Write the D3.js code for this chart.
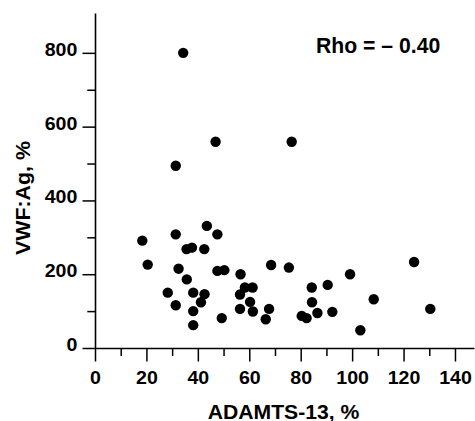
<!DOCTYPE html>
<html>
<head>
<meta charset="utf-8">
<script src="https://cdn.jsdelivr.net/npm/d3@7"></script>
<style>
  html, body { margin: 0; padding: 0; background: #fff; }
  svg { display: block; }
  text { font-family: "Liberation Sans", Arial, Helvetica, sans-serif; font-weight: bold; fill: #000; }
</style>
</head>
<body>
<svg id="chart" width="475" height="421"></svg>
<script>
// ADAMTS-13 activity (%)
const adamts13 = [18.4, 20.5, 31.4, 43.5, 47.6, 35.6, 37.7, 42.5, 32.5, 35.7,
  47.6, 50.3, 56.6, 28.3, 38.2, 42.6, 41.2, 31.4, 38.2, 38.2,
  49.3, 56.4, 58.3, 61.3, 60.3, 56.4, 61.4, 68.5, 75.4, 67.7,
  66.4, 84.3, 90.5, 84.4, 80.4, 82.3, 86.5, 92.3, 99.2, 108.4,
  103.2, 124.1, 130.4, 34.3, 46.9, 76.5, 31.4];
// VWF:Ag (%)
const vwfAg = [291, 226, 308, 331, 308, 268, 272, 268, 215, 186,
  209, 211, 200, 150, 150, 146, 124, 116, 100, 62,
  81, 145, 164, 164, 125, 106, 99, 225, 218, 106,
  78, 164, 171, 124, 87, 81, 95, 98, 200, 132,
  48, 233, 106, 800, 559, 559, 494];
const xTicks = [0, 10, 20, 30, 40, 50, 60, 70, 80, 90, 100, 110, 120, 130, 140];
const xLabels = [0, 20, 40, 60, 80, 100, 120, 140];
const yTicks = [0, 100, 200, 300, 400, 500, 600, 700, 800];
const yLabels = [0, 200, 400, 600, 800];
const xTitle = "ADAMTS-13, %";
const yTitle = "VWF:Ag, %";
const rhoText = "Rho = \u2013 0.40";

const points = adamts13.map((v, i) => ({x: v, y: vwfAg[i]}));

const svg = d3.select("#chart");
const x = d3.scaleLinear().domain([0, 147.4]).range([95, 474]);
const y = d3.scaleLinear().domain([0, 908]).range([348, 13]);

const stretch = 1.12;

// X axis
const gx = svg.append("g").attr("transform", "translate(0,348)")
  .call(d3.axisBottom(x).tickValues(xTicks).tickSizeOuter(0)
    .tickFormat(d => xLabels.includes(d) ? d : ""));
gx.select(".domain").attr("stroke", "#000").attr("stroke-width", 1.6);
gx.selectAll(".tick line").attr("stroke", "#000").attr("stroke-width", 1.5)
  .attr("y2", d => xLabels.includes(d) ? 13.5 : 8);
gx.selectAll(".tick text").attr("y", 36.3).attr("dy", null)
  .style("font-size", "17.5px").attr("font-size", null)
  .attr("font-family", null)
  .attr("transform", `scale(${stretch},1)`);

// Y axis
const gy = svg.append("g").attr("transform", "translate(95,0)")
  .call(d3.axisLeft(y).tickValues(yTicks).tickSizeOuter(0)
    .tickFormat(d => yLabels.includes(d) ? d : ""));
gy.select(".domain").attr("stroke", "#000").attr("stroke-width", 1.6);
gy.selectAll(".tick line").attr("stroke", "#000").attr("stroke-width", 1.5)
  .attr("x2", d => yLabels.includes(d) ? -12.5 : -7.7);
gy.selectAll(".tick text").attr("x", -17.7 / stretch).attr("dy", null).attr("y", 2.5)
  .style("font-size", "17.5px").attr("font-size", null)
  .attr("font-family", null)
  .attr("transform", `scale(${stretch},1)`);

// Points
svg.append("g").selectAll("circle").data(points).join("circle")
  .attr("cx", d => x(d.x)).attr("cy", d => y(d.y)).attr("r", 5.2)
  .attr("fill", "#000");

// Titles
svg.append("text")
  .attr("transform", `translate(283.5,418.5) scale(1.08,1)`)
  .attr("text-anchor", "middle").style("font-size", "19.6px")
  .text(xTitle);
svg.append("text")
  .attr("transform", `translate(30,198) rotate(-90) scale(1.09,1)`)
  .attr("text-anchor", "middle").style("font-size", "19.6px")
  .text(yTitle);

// Correlation annotation
svg.append("text").attr("x", 316).attr("y", 53.3)
  .style("font-size", "21.2px").text(rhoText);
</script>
</body>
</html>
